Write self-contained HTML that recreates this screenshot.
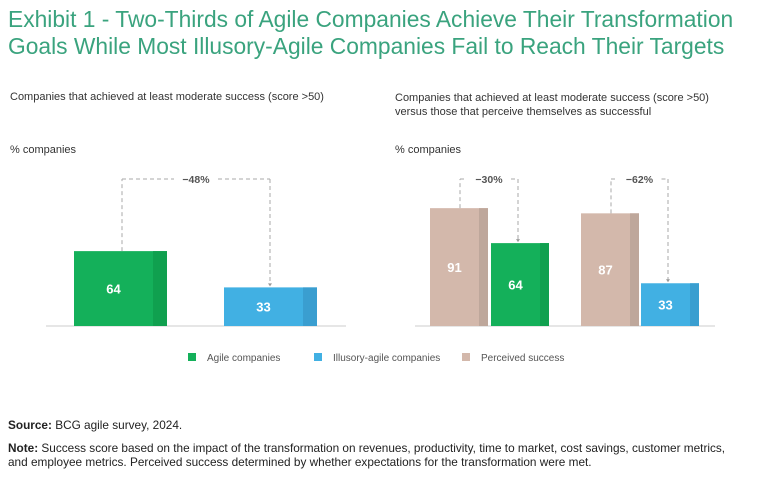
<!DOCTYPE html>
<html><head><meta charset="utf-8"><style>
body{margin:0;width:768px;height:479px;background:#fff;font-family:"Liberation Sans",sans-serif;overflow:hidden;position:relative}
.t{position:absolute;white-space:nowrap}
h1{position:absolute;left:8px;top:6px;margin:0;font-weight:normal;font-size:22.8px;line-height:27px;color:#3aa37e}
.sub{font-size:11px;color:#333}
.n{font-size:11.8px;color:#222;line-height:14px}
</style></head><body>
<h1>Exhibit 1 - Two-Thirds of Agile Companies Achieve Their Transformation<br>Goals While Most Illusory-Agile Companies Fail to Reach Their Targets</h1>
<div class="t sub" style="left:10px;top:91px">Companies that achieved at least moderate success (score &gt;50)</div>
<div class="t sub" style="left:395px;top:91px;line-height:14px">Companies that achieved at least moderate success (score &gt;50)<br>versus those that perceive themselves as successful</div>
<div class="t sub" style="left:10px;top:144px">% companies</div>
<div class="t sub" style="left:395px;top:144px">% companies</div>
<svg id="c" width="768" height="479" style="position:absolute;left:0;top:0" font-family="Liberation Sans, sans-serif"></svg>
<div class="t n" style="left:8px;top:418px"><b>Source:</b> BCG agile survey, 2024.</div>
<div class="t n" style="left:8px;top:441px"><b>Note:</b> Success score based on the impact of the transformation on revenues, productivity, time to market, cost savings, customer metrics,<br>and employee metrics. Perceived success determined by whether expectations for the transformation were met.</div>
<script>
const leftCats=['Agile companies','Illusory-agile companies'];
const leftVals=[64,33];
const rightPerceived=[91,87];
const rightActual=[64,33];
const diffLabels=['−48%','−30%','−62%'];
const legendLabels=['Agile companies','Illusory-agile companies','Perceived success'];
const NS='http://www.w3.org/2000/svg',svg=document.getElementById('c');
const G=['#14b05a','#10a04f'],B=['#41b0e3','#3a9ed0'],T=['#d3b8ab','#bea79b'];
const base=326;
const yL=v=>base-v*1.17, yR=v=>base-v*1.295;
function el(t,a){const e=document.createElementNS(NS,t);for(const k in a)e.setAttribute(k,a[k]);svg.appendChild(e);return e;}
function bar(x,w,side,v,y,col,name){
  const top=y(v);
  const r=el('rect',{x:x,y:top,width:w,height:base-top,fill:col[0]});
  
  el('rect',{x:x+w-side,y:top,width:side,height:base-top,fill:col[1]});
  const t=el('text',{x:x+(w-side)/2,y:(top+base)/2+5,'text-anchor':'middle',fill:'#fff','font-size':13,'font-weight':'bold'});
  t.textContent=v;
  return top;
}
function bracket(x1,t1,x2,t2,lbl,name){
  const d='4,3';const yb=179;
  el('line',{x1:x1,y1:t1,x2:x1,y2:yb,stroke:'#aaa','stroke-dasharray':d});
  const mid=(x1+x2)/2;
  el('line',{x1:x1,y1:yb,x2:mid-22,y2:yb,stroke:'#aaa','stroke-dasharray':d});
  el('line',{x1:mid+22,y1:yb,x2:x2,y2:yb,stroke:'#aaa','stroke-dasharray':d});
  el('line',{x1:x2,y1:yb,x2:x2,y2:t2-3,stroke:'#aaa','stroke-dasharray':d});
  el('path',{d:`M${x2-2},${t2-4}L${x2+2},${t2-4}L${x2},${t2-1}Z`,fill:'#999'});
  const t=el('text',{x:mid,y:yb+4,'text-anchor':'middle',fill:'#555','font-size':10.5,'font-weight':'bold'});
  t.textContent=lbl;
}
el('line',{x1:46,y1:base,x2:346,y2:base,stroke:'#ccc','stroke-width':1});
const lx=[74,224],lc=[G,B];
const lt=leftVals.map((v,i)=>bar(lx[i],93,14,v,yL,lc[i],'left-bar-'+(i+1)));
bracket(122,lt[0],270,lt[1],diffLabels[0],'left-diff-label');
el('line',{x1:415,y1:base,x2:715,y2:base,stroke:'#ccc','stroke-width':1});
const px=[430,581],ax=[491,641],ac=[G,B];
rightPerceived.forEach((v,i)=>{
  const t1=bar(px[i],58,9,v,yR,T,'perceived-bar-'+(i+1));
  const t2=bar(ax[i],58,9,rightActual[i],yR,ac[i],'actual-bar-'+(i+1));
  bracket(px[i]+30,t1,ax[i]+27,t2,diffLabels[i+1],'right-diff-label-'+(i+1));
});
const lgx=[188,314,462],lgc=[G[0],B[0],T[0]];
legendLabels.forEach((l,i)=>{
  const r=el('rect',{x:lgx[i],y:353,width:8,height:8,fill:lgc[i]});
  
  const t=el('text',{x:lgx[i]+19,y:361,fill:'#555','font-size':10});
  t.textContent=l;
});
</script>
</body></html>
